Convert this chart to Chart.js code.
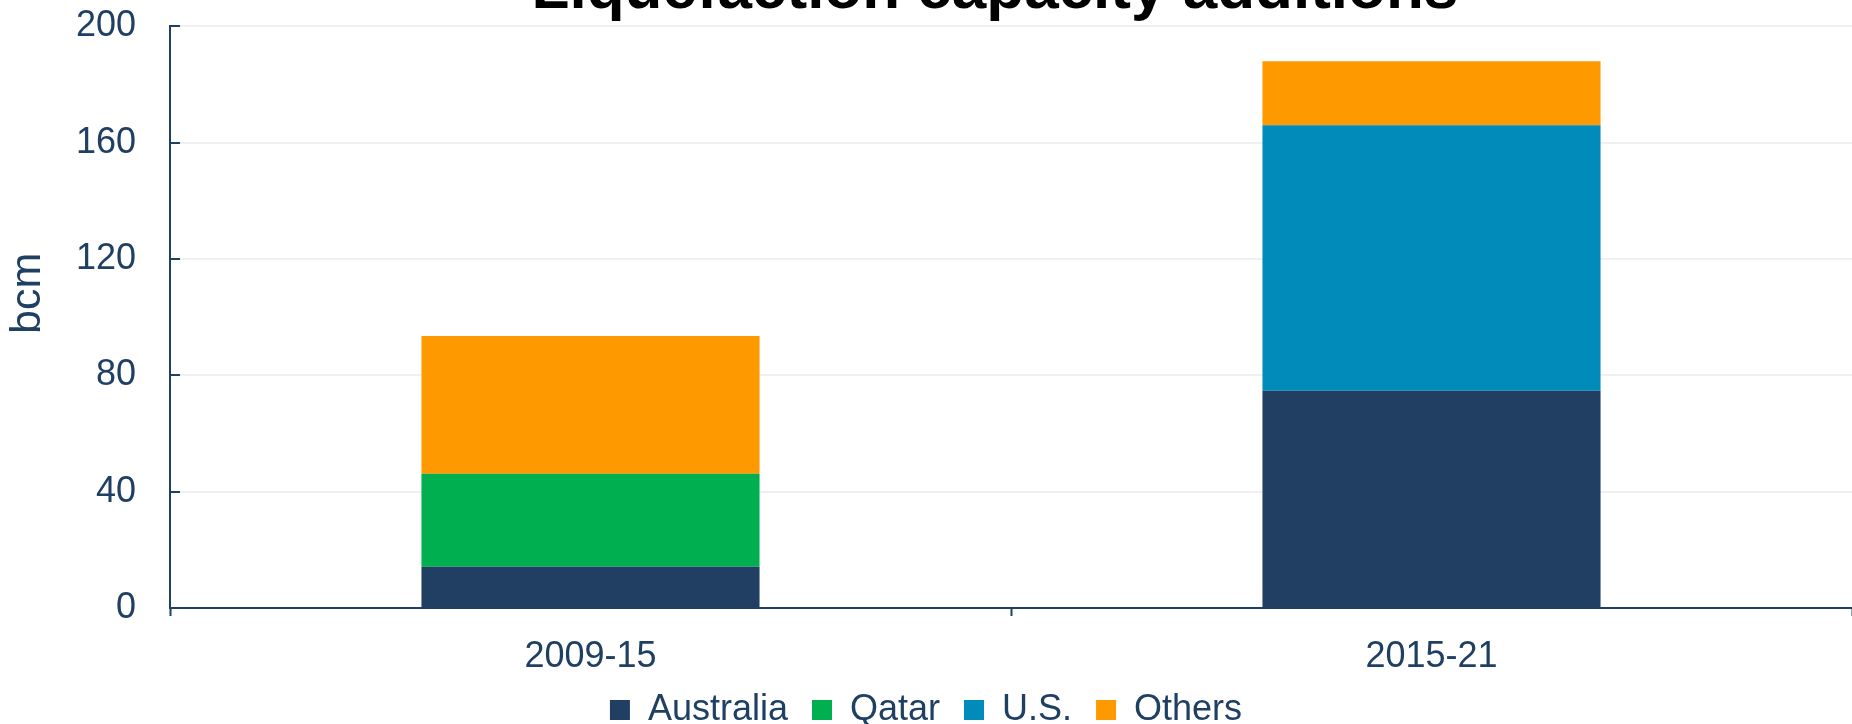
<!DOCTYPE html>
<html>
<head>
<meta charset="utf-8">
<title>Liquefaction capacity additions</title>
<script src="https://cdn.jsdelivr.net/npm/chart.js@4.4.1/dist/chart.umd.min.js"></script>
<style>
  html, body { margin: 0; padding: 0; background: #fff; overflow: hidden; }
  #wrap { position: relative; width: 1852px; height: 724px; overflow: hidden; }
  #chart { position: absolute; left: 0; top: -46px; }
</style>
</head>
<body>
<div id="wrap"><canvas id="chart" width="1852" height="784"></canvas></div>
<script>
// values (bcm)
const periods = ['2009-15', '2015-21'];
const australia = [14.2, 74.7];
const qatar = [32, 0];
const us = [0, 91.3];
const others = [47.3, 22];

const navy = '#1F3F63';

document.addEventListener('DOMContentLoaded', () => {
    Chart.defaults.font.family = '"Liberation Sans", Arial, sans-serif';
    Chart.defaults.color = navy;

    const ctx = document.getElementById('chart').getContext('2d');

    const chartData = {
        labels: periods,
        datasets: [
            { label: 'Australia', data: australia, backgroundColor: '#203F63' },
            { label: 'Qatar', data: qatar, backgroundColor: '#00AF50' },
            { label: 'U.S.', data: us, backgroundColor: '#008BBB' },
            { label: 'Others', data: others, backgroundColor: '#FF9900' }
        ]
    };

    new Chart(ctx, {
        type: 'bar',
        data: chartData,
        options: {
            responsive: false,
            animation: false,
            devicePixelRatio: 1,
            datasets: {
                bar: { borderWidth: 0, barPercentage: 0.402, categoryPercentage: 1 }
            },
            layout: { padding: 0 },
            plugins: {
                title: {
                    display: true,
                    // the original title sits right of centre and is cut off at the top
                    text: '        Liquefaction capacity additions',
                    color: '#000',
                    font: { size: 62, weight: 'bold' },
                    padding: { top: 0, bottom: -2 }
                },
                legend: {
                    position: 'bottom',
                    labels: {
                        color: navy,
                        font: { size: 36 },
                        boxWidth: 20,
                        boxHeight: 20,
                        padding: 24
                    }
                },
                tooltip: { enabled: false }
            },
            scales: {
                x: {
                    stacked: true,
                    grid: {
                        drawOnChartArea: false,
                        drawTicks: true,
                        tickLength: 8,
                        tickColor: navy,
                        tickWidth: 2
                    },
                    border: { color: navy, width: 2 },
                    ticks: { color: navy, font: { size: 36 }, padding: 19 },
                    afterFit: (axis) => { axis.height = 60; }
                },
                y: {
                    stacked: true,
                    min: 0,
                    max: 200,
                    ticks: { stepSize: 40, color: navy, font: { size: 36 }, padding: 44 },
                    grid: {
                        color: '#F0F0F0',
                        lineWidth: 2,
                        tickLength: -10,
                        tickColor: navy,
                        tickWidth: 2
                    },
                    border: { color: navy, width: 2 },
                    title: {
                        display: true,
                        // leading spaces nudge the label up, as in the original
                        text: '    bcm',
                        color: navy,
                        font: { size: 43 },
                        padding: { top: 2, bottom: 0 }
                    },
                    afterFit: (axis) => { axis.width = 170; }
                }
            }
        }
    });
});
</script>
</body>
</html>
